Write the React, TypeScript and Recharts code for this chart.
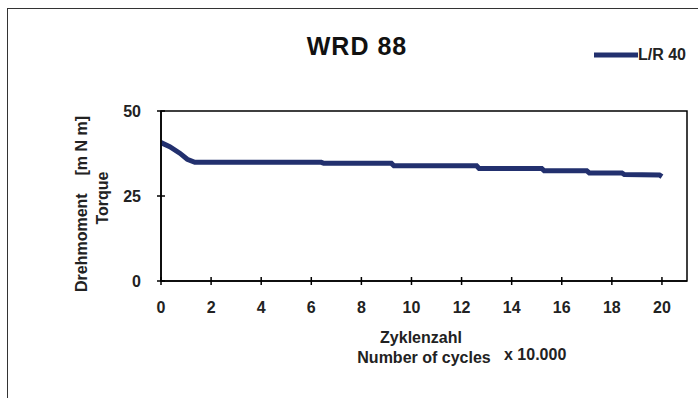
import React from "react";
import { LineChart, Line, XAxis, YAxis, ReferenceArea, Legend, Label } from "recharts";

const cycles = [0, 0.35, 0.75, 1.05, 1.35, 6.4, 6.5, 9.2, 9.3, 12.6, 12.7, 15.2, 15.3, 17.0, 17.1, 18.4, 18.5, 19.9, 20];
const torque = [40.7, 39.5, 37.6, 35.8, 34.9, 34.9, 34.6, 34.6, 33.9, 33.9, 33.1, 33.1, 32.4, 32.4, 31.8, 31.8, 31.3, 31.2, 30.7];
const xTicks = [0, 2, 4, 6, 8, 10, 12, 14, 16, 18, 20];
const yTicks = [0, 25, 50];

const data = cycles.map((c, i) => ({ x: c, lr40: torque[i] }));

const FONT = '"Liberation Sans", Arial, Helvetica, sans-serif';
const NAVY = "#22306e";

const YTick = ({ x, y, payload }: any) => (
  <g>
    <line x1={x - 4} x2={x + 4} y1={y} y2={y} stroke="#000" strokeWidth={1.5} />
    <text x={x - 20} y={y} dy={5.5} textAnchor="end" fontSize={16} fontWeight="bold" fill="#222" fontFamily={FONT}>
      {payload.value}
    </text>
  </g>
);

const XTick = ({ x, y, payload }: any) => (
  <g>
    <line x1={x} x2={x} y1={y - 4} y2={y + 4} stroke="#000" strokeWidth={1.5} />
    <text x={x} y={y + 32} textAnchor="middle" fontSize={16} fontWeight="bold" fill="#222" fontFamily={FONT}>
      {payload.value}
    </text>
  </g>
);

const XLabel = ({ viewBox }: any) => {
  const cx = viewBox.x + viewBox.width / 2;
  const y = viewBox.y;
  const common = { fontSize: 16, fontWeight: "bold", fill: "#222", fontFamily: FONT } as const;
  return (
    <g>
      <text x={cx - 3} y={y + 62} textAnchor="middle" {...common}>Zyklenzahl</text>
      <text x={cx} y={y + 82} textAnchor="middle" {...common}>Number of cycles</text>
      <text x={cx + 80} y={y + 79} textAnchor="start" {...common}>x 10.000</text>
    </g>
  );
};

const YLabel = ({ viewBox }: any) => {
  const left = viewBox.x + viewBox.width;
  const cy = viewBox.y + viewBox.height / 2;
  const common = { fontSize: 16, fontWeight: "bold", fill: "#222", fontFamily: FONT } as const;
  const ax = left - 74;
  const bx = left - 53;
  return (
    <g>
      <text x={ax} y={cy + 8} transform={`rotate(-90, ${ax}, ${cy + 8})`} textAnchor="middle" style={{ whiteSpace: "pre" }} {...common}>
        {"Drehmoment    [m N m]"}
      </text>
      <text x={bx} y={cy + 2} transform={`rotate(-90, ${bx}, ${cy + 2})`} textAnchor="middle" {...common}>
        Torque
      </text>
    </g>
  );
};

const LegendContent = () => (
  <div style={{ display: "flex", alignItems: "center", fontFamily: FONT, fontWeight: "bold", fontSize: 16, color: "#222" }}>
    <svg width={44} height={8}>
      <line x1={0} x2={44} y1={4} y2={4} stroke={NAVY} strokeWidth={5} />
    </svg>
    <span>L/R 40</span>
  </div>
);

export default function App() {
  return (
    <div style={{ position: "absolute", left: 0, top: 0, width: 698, height: 398, overflow: "hidden", background: "#fff" }}>
      <div style={{ position: "absolute", left: 7, top: 8, width: 800, height: 500, border: "1.5px solid #333" }} />
      <div
        style={{
          position: "absolute",
          left: 257,
          top: 30,
          width: 200,
          textAlign: "center",
          fontFamily: FONT,
          fontWeight: "bold",
          fontSize: 25,
          letterSpacing: 1,
          color: "#111",
          lineHeight: "32px",
        }}
      >
        WRD 88
      </div>
      <div style={{ position: "absolute", left: 0, top: 0 }}>
        <LineChart width={698} height={398} data={data} margin={{ top: 111, right: 11, bottom: 77, left: 101 }}>
          <ReferenceArea x1={0} x2={21} y1={0} y2={50} fill="none" stroke="#000" strokeWidth={1.5} ifOverflow="visible" />
          <XAxis
            type="number"
            dataKey="x"
            domain={[0, 21]}
            ticks={xTicks}
            height={40}
            tickSize={0}
            tickMargin={0}
            tickLine={false}
            tick={<XTick />}
            axisLine={{ stroke: "#000", strokeWidth: 1.5 }}
            interval={0}
          >
            <Label content={<XLabel />} />
          </XAxis>
          <YAxis
            type="number"
            domain={[0, 50]}
            ticks={yTicks}
            width={60}
            tickSize={0}
            tickMargin={0}
            tickLine={false}
            tick={<YTick />}
            axisLine={{ stroke: "#000", strokeWidth: 1.5 }}
            interval={0}
          >
            <Label content={<YLabel />} />
          </YAxis>
          <Legend
            layout="vertical"
            align="center"
            verticalAlign="middle"
            content={<LegendContent />}
            wrapperStyle={{ position: "absolute", left: 594, top: 46, width: "auto" }}
          />
          <Line
            type="linear"
            dataKey="lr40"
            name="L/R 40"
            stroke={NAVY}
            strokeWidth={5}
            dot={false}
            isAnimationActive={false}
          />
        </LineChart>
      </div>
    </div>
  );
}
